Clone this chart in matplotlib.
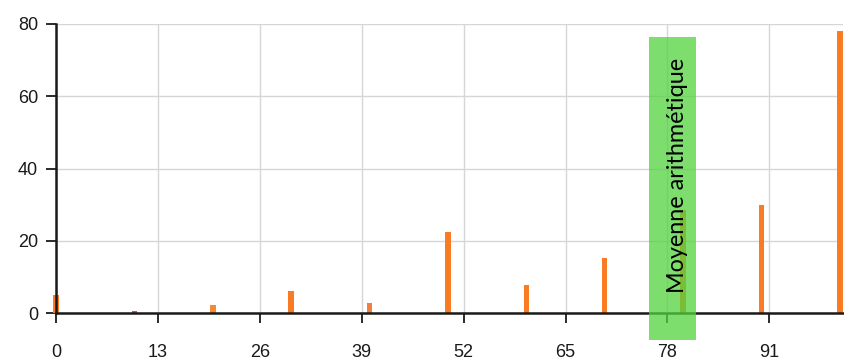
import numpy as np
import matplotlib.pyplot as plt
from matplotlib.patches import Rectangle
import matplotlib.transforms as mtransforms

# values of the series, one bar every 10 units
positions = [0, 10, 20, 30, 40, 50, 60, 70, 80, 90, 100]
values = [5, 0.5, 2.2, 6, 2.7, 22.3, 7.8, 15.2, 28.5, 30, 78]
bar_colors = ["#f97c24", "#c0506a", "#f58a34", "#f97c24", "#f08040", "#f97c24",
              "#f97c24", "#f97c24", "#f97c24", "#f97c24", "#f97c24"]

xticks = [0, 13, 26, 39, 52, 65, 78, 91]
yticks = [0, 20, 40, 60, 80]

# highlighted band with its label
band_start, band_end = 75.7, 81.7
band_label = "Moyenne arithmétique"

plt.rcParams['font.family'] = ['Liberation Sans', 'DejaVu Sans']

fig = plt.figure(figsize=(8.45, 3.6), dpi=100)
ax = fig.add_axes([56 / 845, 1 - 313 / 360, (843 - 56) / 845, (313 - 24) / 360])

bars = ax.bar(positions, values, width=0.7, color=bar_colors, zorder=3)
for b in bars:
    b.set_clip_on(False)

ax.set_xlim(0, 100.4)
ax.set_ylim(0, 80)
ax.set_xticks(xticks)
ax.set_yticks(yticks)
ax.grid(True, color="#d6d6d6", linewidth=1, zorder=0)
ax.set_axisbelow(True)

for side in ("top", "right"):
    ax.spines[side].set_visible(False)
for side in ("left", "bottom"):
    ax.spines[side].set_color("#1a1a1a")
    ax.spines[side].set_linewidth(1.8)
    ax.spines[side].set_zorder(4)

ax.tick_params(axis="both", colors="#1a1a1a", labelsize=13, width=1.3, length=7)
ax.tick_params(axis="x", pad=15)
ax.tick_params(axis="y", pad=6)

# translucent band drawn over the bars, reaching below the axis
trans = mtransforms.blended_transform_factory(ax.transData, ax.transAxes)
band = Rectangle((band_start, -0.093), band_end - band_start, 1.048,
                 transform=trans, facecolor="#52d33e", alpha=0.75,
                 edgecolor="none", clip_on=False, zorder=5)
ax.add_patch(band)
ax.text((band_start + band_end) / 2 + 0.6, 0.476, band_label, transform=trans,
        rotation=90, ha="center", va="center", fontsize=16.8,
        family=["Lato", "DejaVu Sans"], color="#000000",
        zorder=6, clip_on=False)

fig.savefig("out.png", dpi=100)
